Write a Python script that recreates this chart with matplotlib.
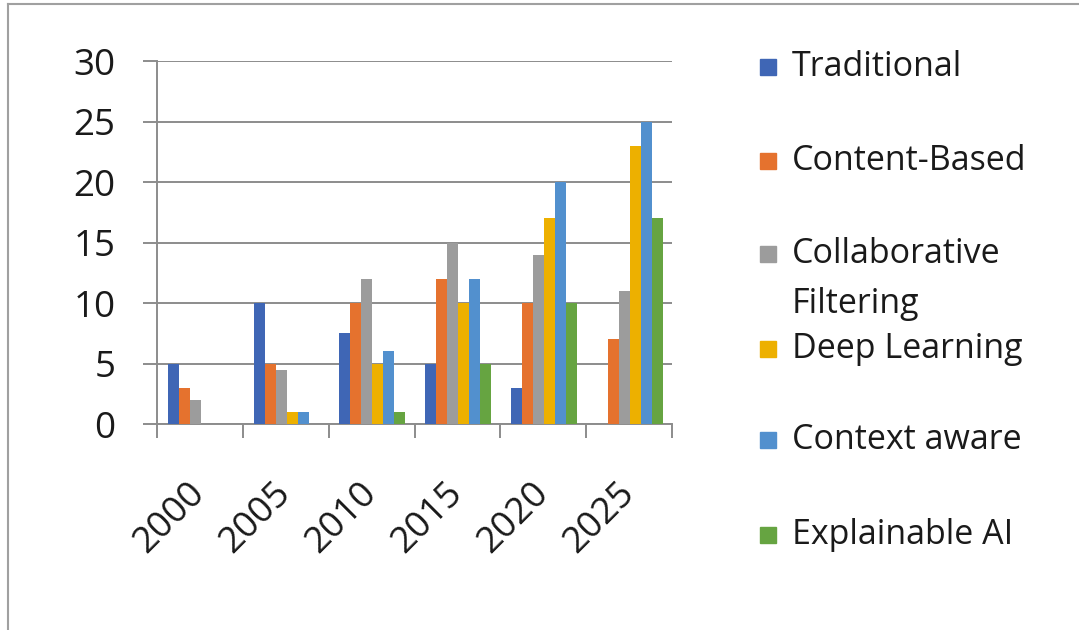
import matplotlib
matplotlib.use("Agg")
import matplotlib.pyplot as plt
import numpy as np
from matplotlib.patches import Rectangle
from matplotlib.lines import Line2D

years = ["2000", "2005", "2010", "2015", "2020", "2025"]
series_names = ["Traditional", "Content-Based", "Collaborative\nFiltering",
                "Deep Learning", "Context aware", "Explainable AI"]
traditional = [5, 10, 7.5, 5, 3, 0]
content_based = [3, 5, 10, 12, 10, 7]
collaborative = [2, 4.5, 12, 15, 14, 11]
deep_learning = [0, 1, 5, 10, 17, 23]
context_aware = [0, 1, 6, 12, 20, 25]
explainable_ai = [0, 0, 1, 5, 10, 17]
values = [traditional, content_based, collaborative, deep_learning, context_aware, explainable_ai]
colors = ["#3F66B5", "#E5722E", "#9C9C9C", "#EDB000", "#5290CE", "#66A441"]

plt.rcParams['font.family'] = ['Open Sans', 'DejaVu Sans']

fig = plt.figure(figsize=(10.79, 6.30), dpi=100)
W, H = 1079, 630
ax = fig.add_axes([157 / W, 1 - 424 / H, (672 - 157) / W, (424 - 61) / H])

x = np.arange(len(years))
bw = 0.128
for i, (vals, c) in enumerate(zip(values, colors)):
    ax.bar(x + (i - 2.5) * bw + 0.01, vals, width=bw, color=c, zorder=3)

ax.set_xlim(-0.5, len(years) - 0.5)
ax.set_ylim(0, 30)
ax.set_yticks(np.arange(0, 31, 5))
ax.yaxis.grid(True, color="#8C8C8C", linewidth=1.4, zorder=0)
for s in ["top", "right"]:
    ax.spines[s].set_visible(False)
for s in ["left", "bottom"]:
    ax.spines[s].set_color("#8C8C8C")
    ax.spines[s].set_linewidth(1.4)

ax.tick_params(axis="y", length=10, width=1.4, color="#8C8C8C", labelsize=26.5, pad=20, labelcolor="#1a1a1a")
ax.set_xticks(x)
ax.set_xticklabels(years, rotation=45, ha="right", va="center", rotation_mode="anchor")
ax.tick_params(axis="x", which="major", length=0, labelsize=26.5, pad=46, labelcolor="#1a1a1a")
ax.set_xticks(np.arange(-0.5, len(years)), minor=True)
ax.tick_params(axis="x", which="minor", length=10, width=1.4, color="#8C8C8C")

# legend (manual, Excel-style)
ys = [67, 161, 254, 349, 440, 535]
for name, c, yy in zip(series_names, colors, ys):
    fig.patches.append(Rectangle((760 / W, 1 - (yy + 8) / H), 16 / W, 16 / H,
                                 transform=fig.transFigure, color=c))
    lines = name.split("\n")
    fig.text(792 / W, 1 - yy / H, lines[0], fontsize=24.5, va="center", ha="left", color="#1a1a1a")
    if len(lines) > 1:
        fig.text(792 / W, 1 - 304 / H, lines[1], fontsize=24.5, va="center", ha="left", color="#1a1a1a")

# outer border lines
fig.add_artist(Line2D([8 / W, 8 / W], [0, 1 - 4 / H], transform=fig.transFigure, color="#A0A0A0", lw=1.5))
fig.add_artist(Line2D([8 / W, 1], [1 - 4 / H, 1 - 4 / H], transform=fig.transFigure, color="#A0A0A0", lw=1.5))

fig.savefig("out.png", dpi=100)
